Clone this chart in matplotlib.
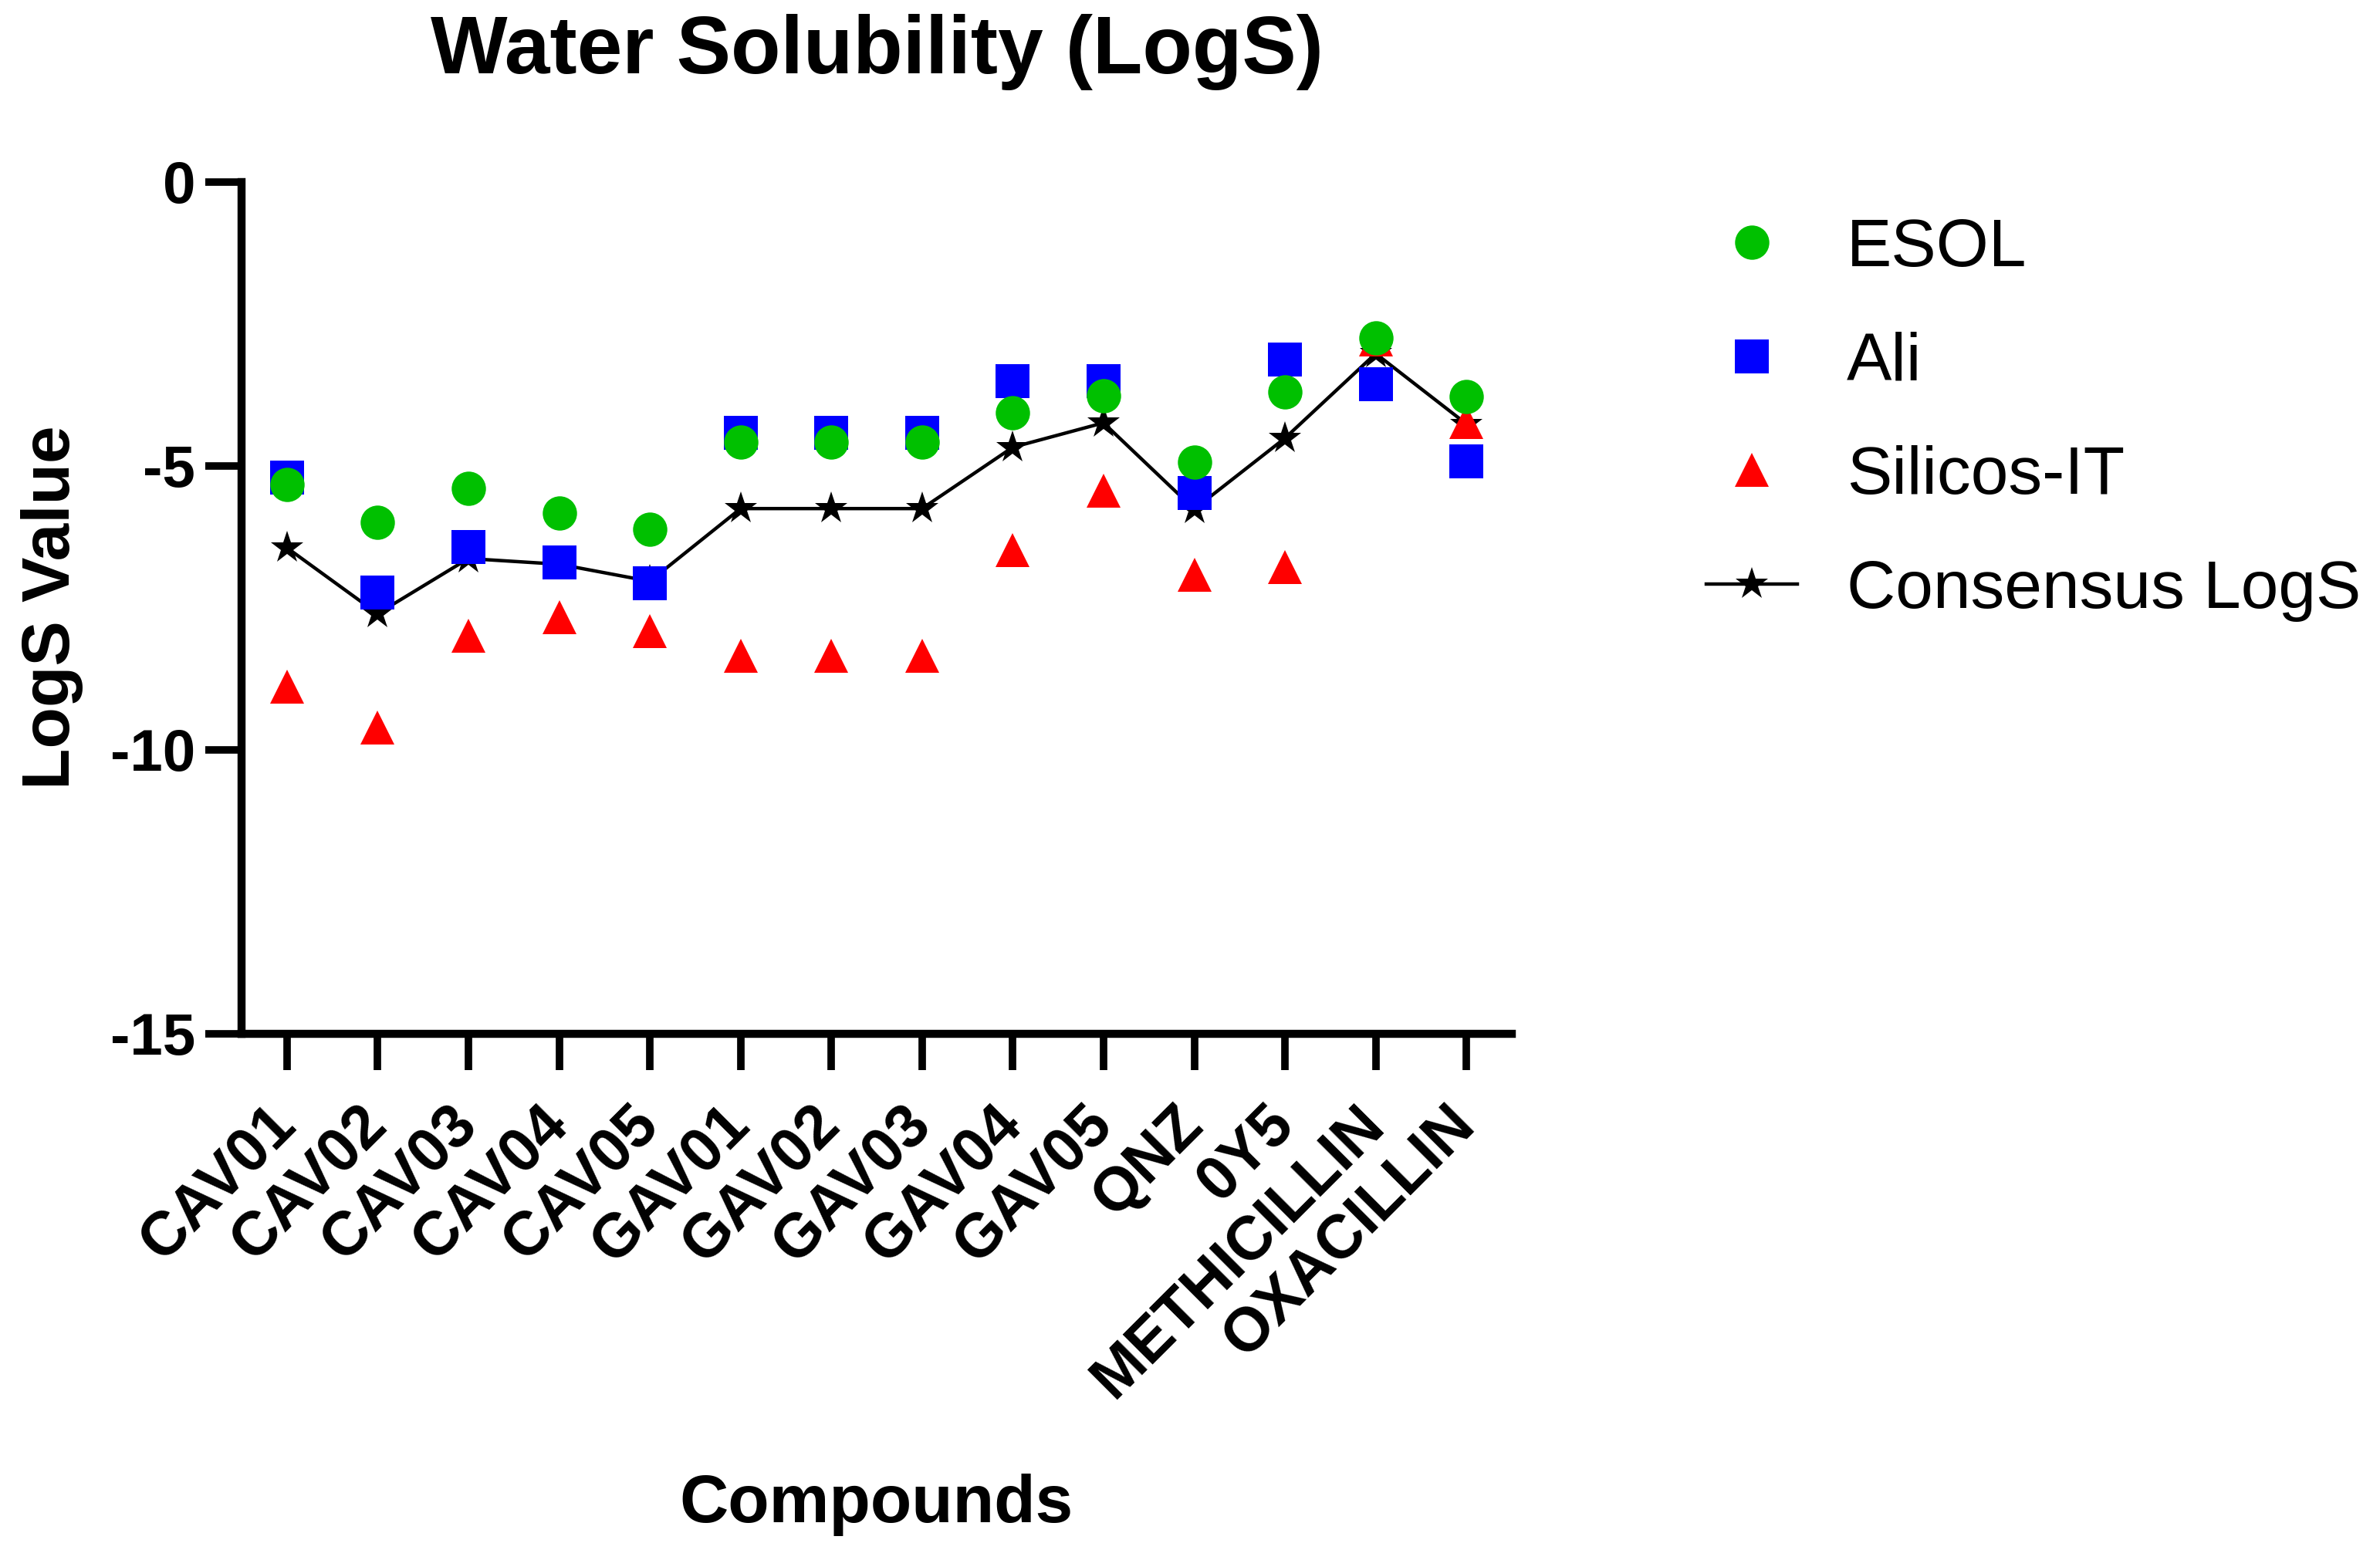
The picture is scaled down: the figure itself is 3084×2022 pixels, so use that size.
import matplotlib
matplotlib.use("Agg")
import matplotlib.pyplot as plt
from matplotlib.lines import Line2D

plt.rcParams['font.family'] = ['Liberation Sans', 'DejaVu Sans']
plt.rcParams['axes.unicode_minus'] = False

compounds = ["CAV01", "CAV02", "CAV03", "CAV04", "CAV05", "GAV01", "GAV02", "GAV03",
             "GAV04", "GAV05", "QNZ", "0Y5", "METHICILLIN", "OXACILLIN"]
esol = [-5.33, -5.99, -5.39, -5.83, -6.12, -4.58, -4.58, -4.58, -4.06, -3.76, -4.93, -3.70, -2.74, -3.78]
ali = [-5.21, -7.23, -6.43, -6.70, -7.07, -4.41, -4.41, -4.41, -3.51, -3.51, -5.47, -3.13, -3.56, -4.92]
silicos = [-8.89, -9.61, -7.99, -7.66, -7.91, -8.34, -8.34, -8.34, -6.48, -5.43, -6.92, -6.78, -2.77, -4.23]
consensus = [-6.44, -7.60, -6.63, -6.73, -7.03, -5.75, -5.75, -5.75, -4.67, -4.24, -5.76, -4.51, -3.02, -4.26]
y_ticks = [0, -5, -10, -15]

W, H = 3084, 2022
fig = plt.figure(figsize=(W / 100, H / 100), dpi=100)
left, right, top, bottom = 313, 1959, 236, 1340
ax = fig.add_axes([left / W, 1 - bottom / H, (right - left) / W, (bottom - top) / H])

x = list(range(len(compounds)))
ms = 32
ax.plot(x, consensus, color='black', lw=3.2, marker='*', ms=32, mew=0, zorder=2, clip_on=False)
ax.plot(x, silicos, ls='none', marker='^', ms=ms, color='#FF0000', mew=0, zorder=3, clip_on=False)
ax.plot(x, ali, ls='none', marker='s', ms=ms, color='#0000FF', mew=0, zorder=4, clip_on=False)
ax.plot(x, esol, ls='none', marker='o', ms=ms, color='#00C000', mew=0, zorder=5, clip_on=False)

ax.set_xlim(-0.5, len(compounds) - 0.5)
ax.set_ylim(-15, 0)
ax.set_yticks(y_ticks)
ax.set_yticklabels([str(v) for v in y_ticks])
ax.set_xticks(x)
ax.set_xticklabels(compounds, rotation=45, ha='right', va='center', rotation_mode='anchor')

for s in ['top', 'right']:
    ax.spines[s].set_visible(False)
for s in ['left', 'bottom']:
    ax.spines[s].set_linewidth(7.5)
    ax.spines[s].set_capstyle('projecting')

ax.tick_params(axis='both', direction='out', length=34, width=7, color='black')
ax.tick_params(axis='y', pad=9, labelsize=55)
ax.tick_params(axis='x', pad=42, labelsize=57)
for lab in ax.get_xticklabels() + ax.get_yticklabels():
    lab.set_fontweight('bold')

fig.text(1136 / W, 1 - 95 / H, "Water Solubility (LogS)", ha='center', va='baseline',
         fontsize=76, fontweight='bold')
fig.text(1136 / W, 1 - 1973 / H, "Compounds", ha='center', va='baseline',
         fontsize=63, fontweight='bold')
fig.text(90 / W, 1 - 787 / H, "LogS Value", ha='center', va='baseline', rotation=90,
         rotation_mode='anchor', fontsize=63, fontweight='bold')

handles = [
    Line2D([], [], ls='none', marker='o', ms=ms, color='#00C000', mew=0),
    Line2D([], [], ls='none', marker='s', ms=ms, color='#0000FF', mew=0),
    Line2D([], [], ls='none', marker='^', ms=ms, color='#FF0000', mew=0),
    Line2D([], [], color='black', lw=3.2, marker='*', ms=32, mew=0),
]
labels = ["ESOL", "Ali", "Silicos-IT", "Consensus LogS"]
fig.legend(handles, labels, loc='upper left', bbox_to_anchor=(2211 / W, 1 - 282 / H),
           frameon=False, fontsize=63, borderpad=0, borderaxespad=0,
           handlelength=1.35, handletextpad=0.73, labelspacing=0.76)

fig.savefig("out.png", dpi=100)
